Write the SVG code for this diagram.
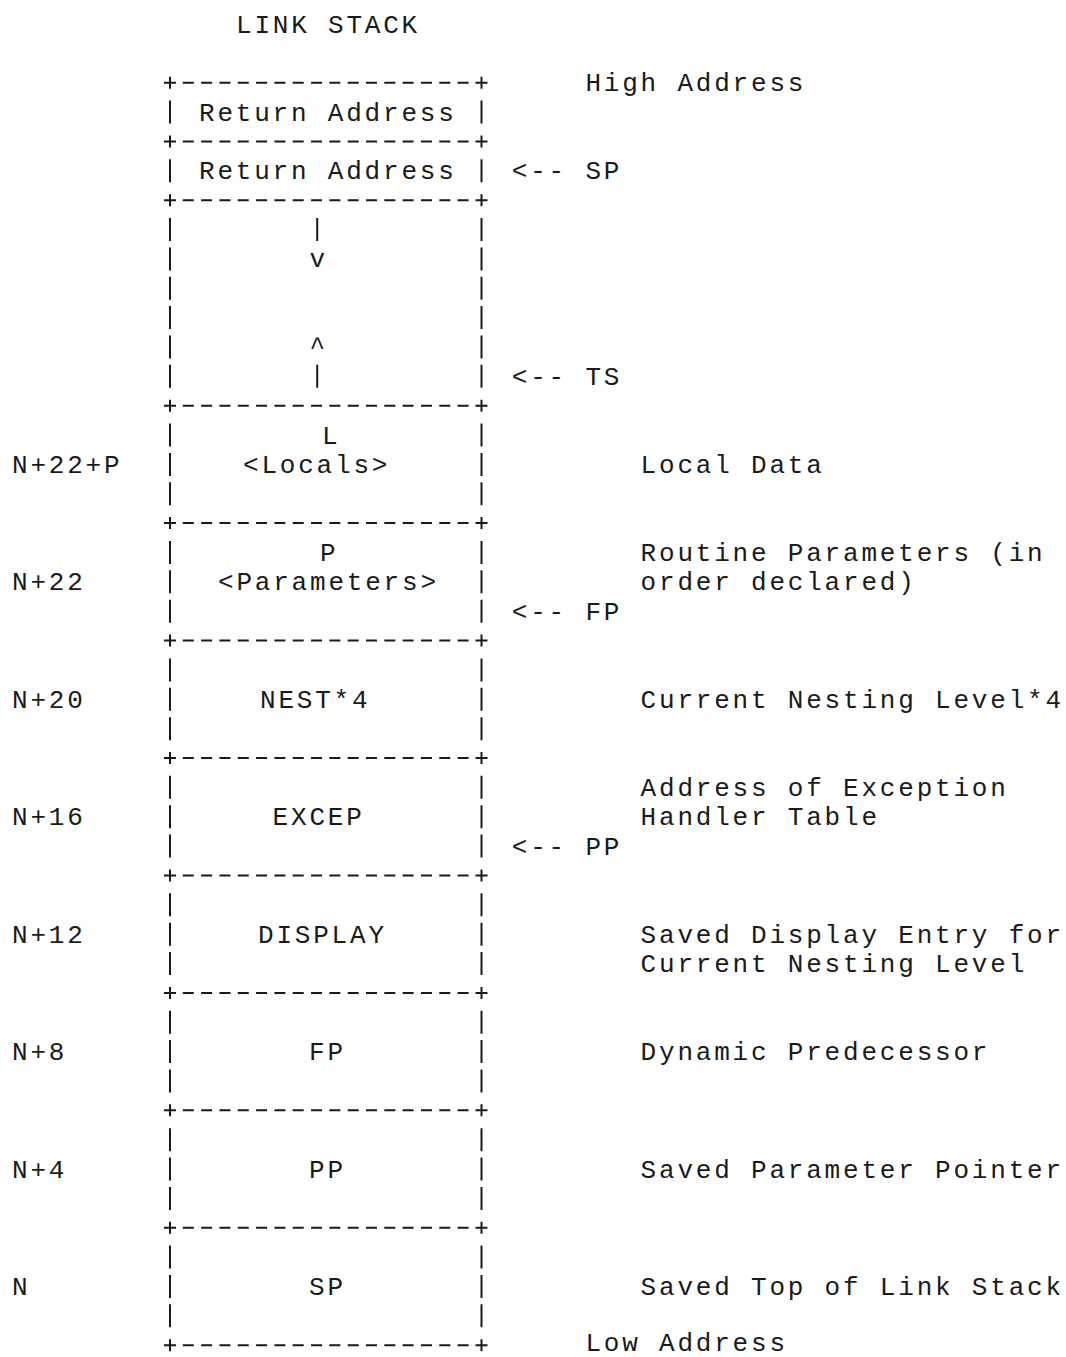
<svg xmlns="http://www.w3.org/2000/svg" xmlns:xlink="http://www.w3.org/1999/xlink" width="1066" height="1357" viewBox="0 0 1066 1357">
<style>
.t{font-family:"Liberation Mono","DejaVu Sans Mono",monospace;font-size:26px;letter-spacing:2.8px;fill:#1a1a1a}
.bar{stroke:#1a1a1a;stroke-width:2;fill:none;stroke-dasharray:23 6.36}
.dash{stroke:#1a1a1a;stroke-width:2;fill:none;stroke-dasharray:11 7.32}
.plus{stroke:#1a1a1a;stroke-width:2;fill:none}
</style>
<defs>
<g id="rule">
<line class="dash" x1="182.8" y1="0" x2="468.6" y2="0"/>
<path class="plus" d="M164 0h12M170 -6v12M475.5 0h12M481.5 -6v12"/>
</g>
</defs>
<rect width="1066" height="1357" fill="#ffffff"/>
<text class="t" x="236" y="32.5">LINK STACK</text>
<g id="rules">
<use xlink:href="#rule" y="82.72"/>
<use xlink:href="#rule" y="141.44"/>
<use xlink:href="#rule" y="200.16"/>
<use xlink:href="#rule" y="405.68"/>
<use xlink:href="#rule" y="523.12"/>
<use xlink:href="#rule" y="640.56"/>
<use xlink:href="#rule" y="758"/>
<use xlink:href="#rule" y="875.44"/>
<use xlink:href="#rule" y="992.88"/>
<use xlink:href="#rule" y="1110.32"/>
<use xlink:href="#rule" y="1227.76"/>
<use xlink:href="#rule" y="1345.2"/>
</g>
<g id="ret1">
<path class="bar" d="M170 100.58V123.58M481.5 100.58V123.58"/>
<text class="t" x="199" y="120.58">Return Address</text>
</g>
<g id="ret2">
<path class="bar" d="M170 159.3V182.3M481.5 159.3V182.3"/>
<text class="t" x="199" y="179.3">Return Address</text>
</g>
<g id="free">
<path class="bar" d="M170 218.02V387.82M481.5 218.02V387.82"/>
</g>
<g id="locals">
<path class="bar" d="M170 423.54V505.26M481.5 423.54V505.26"/>
<text class="t" x="322" y="443.54">L</text>
<text class="t" x="243" y="472.9">&lt;Locals&gt;</text>
<text class="t" x="12" y="472.9">N+22+P</text>
</g>
<g id="params">
<path class="bar" d="M170 540.98V622.7M481.5 540.98V622.7"/>
<text class="t" x="320" y="560.98">P</text>
<text class="t" x="218" y="590.34">&lt;Parameters&gt;</text>
<text class="t" x="12" y="590.34">N+22</text>
</g>
<g id="nest">
<path class="bar" d="M170 658.42V740.14M481.5 658.42V740.14"/>
<text class="t" x="260" y="707.78">NEST*4</text>
<text class="t" x="12" y="707.78">N+20</text>
</g>
<g id="excep">
<path class="bar" d="M170 775.86V857.58M481.5 775.86V857.58"/>
<text class="t" x="272.6" y="825.22">EXCEP</text>
<text class="t" x="12" y="825.22">N+16</text>
</g>
<g id="display">
<path class="bar" d="M170 893.3V975.02M481.5 893.3V975.02"/>
<text class="t" x="258" y="942.66">DISPLAY</text>
<text class="t" x="12" y="942.66">N+12</text>
</g>
<g id="fp">
<path class="bar" d="M170 1010.74V1092.46M481.5 1010.74V1092.46"/>
<text class="t" x="309" y="1060.1">FP</text>
<text class="t" x="12" y="1060.1">N+8</text>
</g>
<g id="pp">
<path class="bar" d="M170 1128.18V1209.9M481.5 1128.18V1209.9"/>
<text class="t" x="309" y="1177.54">PP</text>
<text class="t" x="12" y="1177.54">N+4</text>
</g>
<g id="sp">
<path class="bar" d="M170 1245.62V1327.34M481.5 1245.62V1327.34"/>
<text class="t" x="309" y="1294.98">SP</text>
<text class="t" x="12" y="1294.98">N</text>
</g>
<g id="descriptions">
<text class="t" x="585.4" y="91.2">High Address</text>
<text class="t" x="640.6" y="472.9">Local Data</text>
<text class="t" x="640.6" y="560.98">Routine Parameters (in</text>
<text class="t" x="640.6" y="590.34">order declared)</text>
<text class="t" x="640.6" y="707.78">Current Nesting Level*4</text>
<text class="t" x="640.6" y="795.86">Address of Exception</text>
<text class="t" x="640.6" y="825.22">Handler Table</text>
<text class="t" x="640.6" y="942.66">Saved Display Entry for</text>
<text class="t" x="640.6" y="972.02">Current Nesting Level</text>
<text class="t" x="640.6" y="1060.1">Dynamic Predecessor</text>
<text class="t" x="640.6" y="1177.54">Saved Parameter Pointer</text>
<text class="t" x="640.6" y="1294.98">Saved Top of Link Stack</text>
<text class="t" x="585.4" y="1351">Low Address</text>
</g>
<g id="connectors">
<g id="growth">
<path class="plus" d="M317.2 218.02V241.02M317.2 364.82V387.82"/>
<text class="t" x="309.4" y="267.38">v</text>
<text class="t" x="309.4" y="355.46">^</text>
</g>
<text class="t" x="511.8" y="179.3">&lt;-- SP</text>
<text class="t" x="511.8" y="384.82">&lt;-- TS</text>
<text class="t" x="511.8" y="619.7">&lt;-- FP</text>
<text class="t" x="511.8" y="854.58">&lt;-- PP</text>
</g>
</svg>
